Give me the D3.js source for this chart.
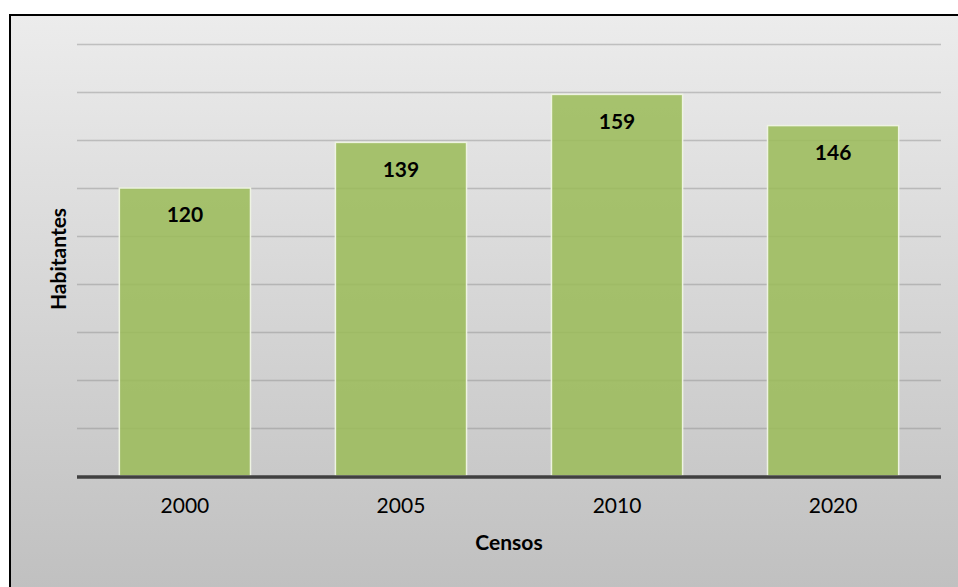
<!DOCTYPE html>
<meta charset="utf-8">
<style>
body { margin: 0; background: #fff; }
text { font-family: Lato, "Open Sans", sans-serif; }
</style>
<svg width="958" height="587"></svg>
<script src="https://d3js.org/d3.v7.min.js"></script>
<script>

var years = ["2000", "2005", "2010", "2020"];
var habitantes = [120, 139, 159, 146];
var gridTicks = [20, 40, 60, 80, 100, 120, 140, 160, 180];

var svg = d3.select("svg"),
    width = +svg.attr("width"),
    height = +svg.attr("height");

var margin = {left: 77, right: 17, bottom: 111};

// gray gradient background of the chart frame
var defs = svg.append("defs");
var grad = defs.append("linearGradient")
    .attr("id", "bg")
    .attr("x1", 0).attr("y1", 0).attr("x2", 0).attr("y2", 1);
grad.append("stop").attr("offset", "0%").attr("stop-color", "#ececec");
grad.append("stop").attr("offset", "100%").attr("stop-color", "#bfbfbf");

svg.append("rect")
    .attr("x", 10).attr("y", 15)
    .attr("width", width).attr("height", height)
    .attr("fill", "url(#bg)")
    .attr("stroke", "#000")
    .attr("stroke-width", 2);

var x = d3.scaleBand()
    .domain(years)
    .range([margin.left, width - margin.right])
    .paddingInner(0.393)
    .paddingOuter(0.196);

var y = d3.scaleLinear()
    .domain([0, 180])
    .range([height - margin.bottom, 44]);

// gridlines
svg.append("g")
    .selectAll("line")
    .data(gridTicks)
    .enter().append("line")
    .attr("x1", margin.left)
    .attr("x2", width - margin.right)
    .attr("y1", function(d) { return Math.round(y(d)) + 0.5; })
    .attr("y2", function(d) { return Math.round(y(d)) + 0.5; })
    .attr("stroke", "#8c8c8c")
    .attr("stroke-opacity", 0.45)
    .attr("stroke-width", 1.5);

// bars
svg.append("g")
    .selectAll("rect")
    .data(habitantes)
    .enter().append("rect")
    .attr("x", function(d, i) { return x(years[i]); })
    .attr("y", function(d) { return y(d); })
    .attr("width", x.bandwidth())
    .attr("height", function(d) { return y(0) - y(d); })
    .attr("fill", "#9bbb59")
    .attr("fill-opacity", 0.86)
    .attr("stroke", "#eef3e2")
    .attr("stroke-width", 1.5);

// value labels
svg.append("g")
    .selectAll("text")
    .data(habitantes)
    .enter().append("text")
    .attr("x", function(d, i) { return x(years[i]) + x.bandwidth() / 2; })
    .attr("y", function(d) { return y(d) + 27; })
    .attr("dy", "0.35em")
    .attr("text-anchor", "middle")
    .style("font-size", "21px")
    .style("font-weight", "bold")
    .attr("fill", "#000")
    .text(function(d) { return d; });

// baseline
svg.append("line")
    .attr("x1", margin.left)
    .attr("x2", width - margin.right)
    .attr("y1", y(0) + 1)
    .attr("y2", y(0) + 1)
    .attr("stroke", "#404040")
    .attr("stroke-width", 3.5);

// x axis labels
var xAxis = svg.append("g")
    .attr("transform", "translate(0," + y(0) + ")")
    .call(d3.axisBottom(x).tickSize(0).tickPadding(22));
xAxis.select(".domain").remove();
xAxis.selectAll("text")
    .style("font-family", "Lato, 'Open Sans', sans-serif")
    .style("font-size", "21px")
    .attr("fill", "#000");

// axis titles
svg.append("text")
    .attr("x", (margin.left + width - margin.right) / 2)
    .attr("y", 543)
    .attr("dy", "0.35em")
    .attr("text-anchor", "middle")
    .style("font-size", "21px")
    .style("font-weight", "bold")
    .text("Censos");

svg.append("text")
    .attr("transform", "translate(59,259) rotate(-90)")
    .attr("dy", "0.35em")
    .attr("text-anchor", "middle")
    .style("font-size", "21px")
    .style("font-weight", "bold")
    .text("Habitantes");

</script>
